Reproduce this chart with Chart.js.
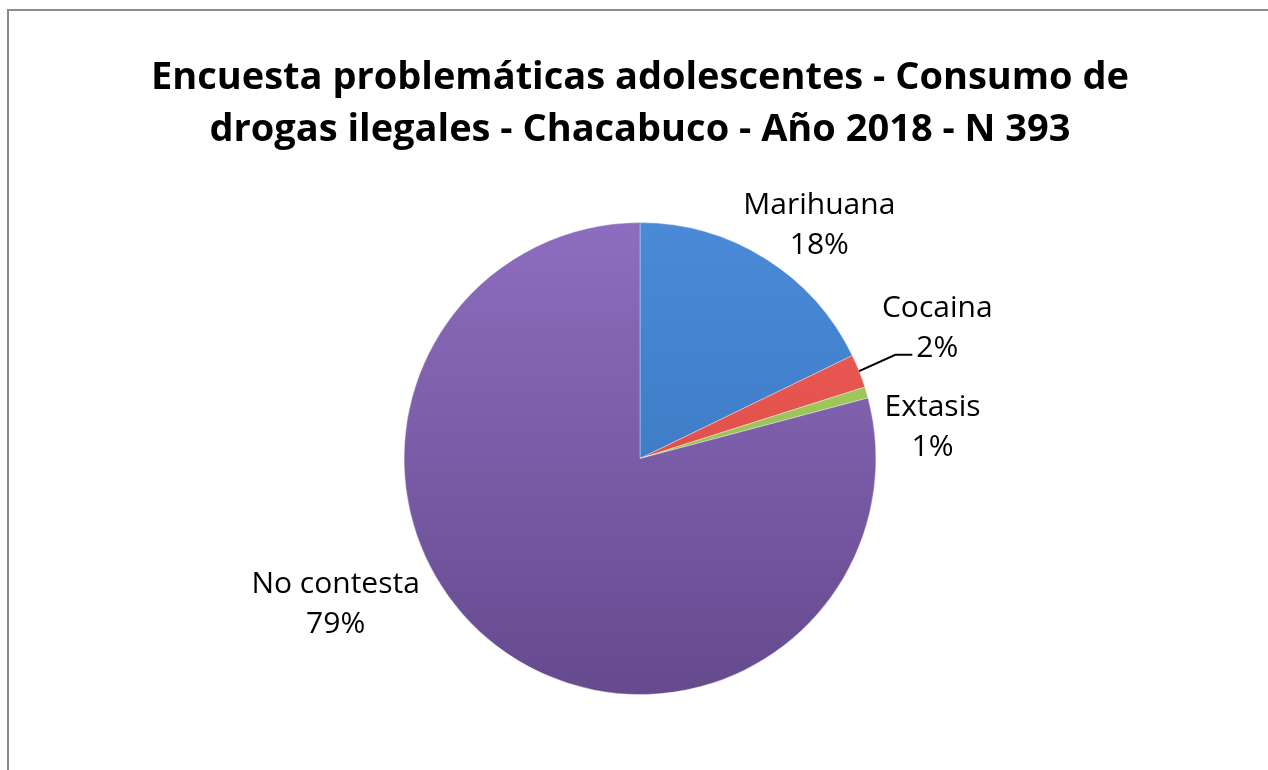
<!DOCTYPE html>
<html>
<head>
<meta charset="utf-8">
<script src="https://cdn.jsdelivr.net/npm/chart.js@4/dist/chart.umd.min.js"></script>
<style>
  html, body { margin: 0; padding: 0; background: #fff; }
  #wrap { position: relative; width: 1268px; height: 770px; }
  #frame { position: absolute; left: 7px; top: 9px; width: 1261px; height: 761px;
           border-left: 2px solid #8c8c8c; border-top: 2px solid #8c8c8c; box-sizing: border-box; }
</style>
</head>
<body>
<div id="wrap">
  <div id="frame"></div>
  <canvas id="canvas" width="1268" height="770"></canvas>
</div>
<script>
'use strict';

// datos de la encuesta (N 393)
var categorias = ['Marihuana', 'Cocaina', 'Extasis', 'No contesta'];
var respuestas = [70, 9, 3, 311];
var titulo = ['Encuesta problemáticas adolescentes - Consumo de', 'drogas ilegales - Chacabuco - Año 2018 - N 393'];

// colores: arriba claro, abajo oscuro (efecto bisel de Excel)
var coloresArriba = ['#4a8ad6', '#f0605a', '#a8d062', '#8d6dbf'];
var coloresAbajo  = ['#3470bb', '#d23f3a', '#8db44a', '#654a8e'];

// ubicación de las etiquetas, relativa al centro y en radios
var posEtiquetas = [
    { x: 0.76, y: -0.99 },
    { x: 1.26, y: -0.55 },
    { x: 1.24, y: -0.13 },
    { x: -1.29, y: 0.62 }
];

var total = respuestas.reduce(function (a, b) { return a + b; }, 0);

function fondo(context) {
    var chart = context.chart;
    var area = chart.chartArea;
    if (!area) return coloresAbajo[context.dataIndex];
    var g = chart.ctx.createLinearGradient(0, area.top, 0, area.bottom);
    g.addColorStop(0, coloresArriba[context.dataIndex]);
    g.addColorStop(1, coloresAbajo[context.dataIndex]);
    return g;
}

var etiquetasPlugin = {
    id: 'etiquetas',
    afterDatasetsDraw: function (chart) {
        var ctx = chart.ctx;
        var meta = chart.getDatasetMeta(0);
        ctx.save();
        ctx.fillStyle = '#000';
        ctx.font = '30px "Open Sans", sans-serif';
        ctx.textAlign = 'center';
        ctx.textBaseline = 'middle';
        meta.data.forEach(function (arc, i) {
            var r = arc.outerRadius;
            var cx = arc.x + posEtiquetas[i].x * r;
            var cy = arc.y + posEtiquetas[i].y * r;
            var pct = Math.round(respuestas[i] / total * 100) + '%';
            ctx.fillText(categorias[i], cx, cy - 20);
            ctx.fillText(pct, cx, cy + 20);
            if (i === 1) {
                // línea guía hacia la porción
                var mid = (arc.startAngle + arc.endAngle) / 2;
                var px = arc.x + Math.cos(mid) * r;
                var py = arc.y + Math.sin(mid) * r;
                var tw = ctx.measureText(pct).width;
                var ex = cx - tw / 2 - 4;
                var ey = cy + 26;
                ctx.beginPath();
                ctx.strokeStyle = '#000';
                ctx.lineWidth = 2;
                ctx.moveTo(px, py);
                ctx.lineTo(ex - 17, ey);
                ctx.lineTo(ex, ey);
                ctx.stroke();
            }
        });
        ctx.restore();
    }
};

var ctx = document.getElementById('canvas').getContext('2d');
var myPie = new Chart(ctx, {
    type: 'pie',
    data: {
        labels: categorias,
        datasets: [{
            data: respuestas,
            backgroundColor: fondo,
            borderColor: 'rgba(255,255,255,0.35)',
            borderWidth: 1,
            hoverOffset: 0
        }]
    },
    options: {
        responsive: false,
        animation: false,
        events: [],
        layout: { padding: { top: 0, bottom: 75, left: 112, right: 100 } },
        plugins: {
            legend: { display: false },
            tooltip: { enabled: false },
            title: {
                display: true,
                text: titulo,
                color: '#000',
                font: { family: '"Open Sans", sans-serif', size: 38, weight: 'bold', lineHeight: 1.37 },
                padding: { top: 52, bottom: 66 }
            }
        }
    },
    plugins: [etiquetasPlugin]
});
</script>
</body>
</html>
